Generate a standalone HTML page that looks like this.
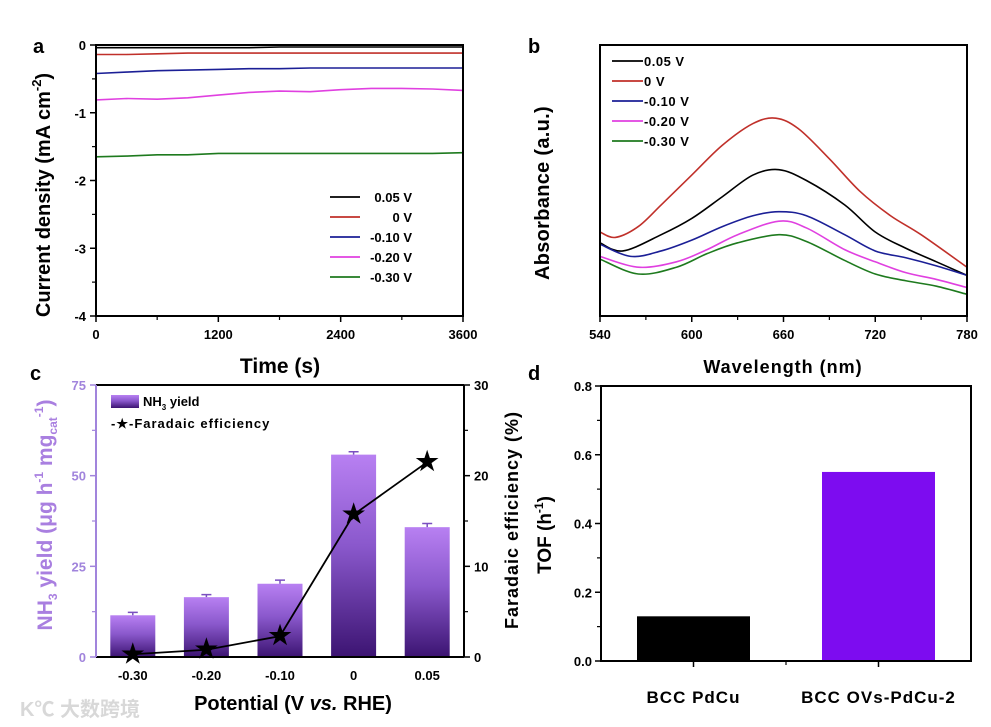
<!DOCTYPE html>
<html><head><meta charset="utf-8">
<style>
html,body{margin:0;padding:0;background:#fff;}
svg{display:block;font-family:"Liberation Sans",Arial,sans-serif;font-weight:bold;}
</style></head>
<body>
<svg id="fig" width="991" height="727" viewBox="0 0 991 727" xmlns="http://www.w3.org/2000/svg">
<defs>
<linearGradient id="barGrad" x1="0" y1="0" x2="0" y2="1">
<stop offset="0" stop-color="#b880f2"/>
<stop offset="0.45" stop-color="#8a58cc"/>
<stop offset="1" stop-color="#3c1472"/>
</linearGradient>
</defs>
<g id="root"></g>
<text x="20" y="716" font-size="20" fill="#d8d8d8" font-family="'Liberation Sans','Noto Sans CJK SC',sans-serif">K℃ 大数跨境</text>
</svg>
<script>
// ---- Panel a data ----
const aTimes = [0, 300, 600, 900, 1200, 1500, 1800, 2100, 2400, 2700, 3000, 3300, 3600];
const aSeriesNames = ["0.05 V", "0 V", "-0.10 V", "-0.20 V", "-0.30 V"];
const aBlack = [-0.04,-0.04,-0.04,-0.04,-0.04,-0.04,-0.03,-0.03,-0.03,-0.03,-0.03,-0.03,-0.03];
const aRed = [-0.14,-0.14,-0.13,-0.12,-0.12,-0.12,-0.12,-0.12,-0.12,-0.12,-0.12,-0.12,-0.12];
const aBlue = [-0.42,-0.40,-0.38,-0.37,-0.36,-0.35,-0.35,-0.34,-0.34,-0.34,-0.34,-0.34,-0.34];
const aMagenta = [-0.81,-0.79,-0.80,-0.78,-0.74,-0.70,-0.68,-0.69,-0.66,-0.64,-0.64,-0.65,-0.67];
const aGreen = [-1.65,-1.64,-1.62,-1.62,-1.60,-1.60,-1.60,-1.60,-1.60,-1.60,-1.60,-1.60,-1.59];
const aXTicks = [0, 1200, 2400, 3600];
const aYTicks = [0, -1, -2, -3, -4];
// ---- Panel b data ----
const bRedX = [540,550,565,580,600,620,640,655,670,690,710,730,750,780];
const bRed = [0.31,0.29,0.33,0.41,0.52,0.63,0.71,0.73,0.69,0.58,0.46,0.37,0.30,0.18];
const bBlackX = [540,555,580,600,620,640,657,675,700,720,740,760,780];
const bBlack = [0.27,0.24,0.30,0.36,0.44,0.52,0.54,0.50,0.41,0.31,0.25,0.20,0.15];
const bBlueX = [540,560,580,600,620,640,657,675,700,720,740,760,780];
const bBlue = [0.265,0.22,0.24,0.28,0.33,0.37,0.385,0.37,0.30,0.24,0.215,0.185,0.15];
const bMagX = [540,565,590,610,630,657,675,700,720,740,760,780];
const bMag = [0.22,0.18,0.20,0.245,0.30,0.35,0.325,0.245,0.20,0.16,0.135,0.105];
const bGreenX = [540,565,590,610,630,657,675,700,720,740,760,780];
const bGreen = [0.21,0.155,0.18,0.23,0.27,0.30,0.275,0.205,0.155,0.13,0.11,0.08];
const bXTicks = [540, 600, 660, 720, 780];
// ---- Panel c data ----
const cCategories = ["-0.30", "-0.20", "-0.10", "0", "0.05"];
const cYield = [11.5, 16.5, 20.2, 55.8, 35.8];
const cYieldErr = [0.8, 0.7, 1.0, 0.8, 1.0];
const cFE = [0.3, 0.8, 2.3, 15.7, 21.5];
const cLeftTicks = [0, 25, 50, 75];
const cRightTicks = [0, 10, 20, 30];
// ---- Panel d data ----
const dCategories = ["BCC PdCu", "BCC OVs-PdCu-2"];
const dTOF = [0.13, 0.55];
const dYTicks = [0.0, 0.2, 0.4, 0.6, 0.8];

const NS = "http://www.w3.org/2000/svg";
const root = document.getElementById("root");
function el(tag, attrs, parent, text) {
  const e = document.createElementNS(NS, tag);
  for (const k in attrs) e.setAttribute(k, attrs[k]);
  if (text !== undefined) e.textContent = text;
  (parent || root).appendChild(e);
  return e;
}
function lin(d0, d1, r0, r1) { return v => r0 + (v - d0) / (d1 - d0) * (r1 - r0); }
function path(xs, ys, fx, fy) { return xs.map((x, i) => (i ? "L" : "M") + fx(x).toFixed(1) + "," + fy(ys[i]).toFixed(1)).join(""); }
function smoothPath(xs, ys, fx, fy) {
  const p = xs.map((x, i) => [fx(x), fy(ys[i])]);
  let d = "M" + p[0][0] + "," + p[0][1];
  for (let i = 0; i < p.length - 1; i++) {
    const p0 = p[i - 1] || p[i], p1 = p[i], p2 = p[i + 1], p3 = p[i + 2] || p2;
    const c1 = [p1[0] + (p2[0] - p0[0]) / 6, p1[1] + (p2[1] - p0[1]) / 6];
    const c2 = [p2[0] - (p3[0] - p1[0]) / 6, p2[1] - (p3[1] - p1[1]) / 6];
    d += "C" + c1.join(",") + " " + c2.join(",") + " " + p2.join(",");
  }
  return d;
}
const colors = ["#000000", "#c0302a", "#1b1f96", "#e040e0", "#1e7a1e"];

// ================= Panel a =================
{
  const L = 96, R = 463, T = 45, B = 316;
  const g = el("g", {});
  
  
  const fx = lin(0, 3600, L, R), fy = lin(-4, 0, B, T);
  const t = el("text", {x: 33, y: 53, "font-size": 20}, g, "a");
   
  const series = [aBlack, aRed, aBlue, aMagenta, aGreen];
  series.forEach((s, i) => {
    const p = el("path", {d: path(aTimes, s, fx, fy), stroke: colors[i], "stroke-width": 1.6, fill: "none"}, g);
    
    
  });
  const box = el("rect", {x: L, y: T, width: R - L, height: B - T, fill: "none", stroke: "#000", "stroke-width": 2}, g);
   
  aXTicks.forEach(v => {
    el("line", {x1: fx(v), x2: fx(v), y1: B, y2: B + 6, stroke: "#000", "stroke-width": 1.5}, g);
    const tl = el("text", {x: fx(v), y: B + 23, "font-size": 13, "text-anchor": "middle"}, g, String(v));
     
  });
  [600, 1800, 3000].forEach(v => el("line", {x1: fx(v), x2: fx(v), y1: B, y2: B + 4, stroke: "#000", "stroke-width": 1.2}, g));
  aYTicks.forEach(v => {
    el("line", {x1: L - 6, x2: L, y1: fy(v), y2: fy(v), stroke: "#000", "stroke-width": 1.5}, g);
    const tl = el("text", {x: L - 10, y: fy(v) + 5, "font-size": 13, "text-anchor": "end"}, g, String(v));
     
  });
  [-0.5, -1.5, -2.5, -3.5].forEach(v => el("line", {x1: L - 4, x2: L, y1: fy(v), y2: fy(v), stroke: "#000", "stroke-width": 1.2}, g));
  const xt = el("text", {x: 280, y: 373, "font-size": 21, "text-anchor": "middle"}, g, "Time (s)");
   
  const yt = el("text", {transform: "translate(50,195) rotate(-90)", "font-size": 20, "text-anchor": "middle"}, g);
   
  el("tspan", {}, yt, "Current density (mA cm");
  el("tspan", {"font-size": 13, dy: -9}, yt, "-2");
  el("tspan", {dy: 9}, yt, ")");
  aSeriesNames.forEach((n, i) => {
    const y = 197 + i * 20;
    const lg = el("g", {}, g);
     
    el("line", {x1: 330, x2: 360, y1: y, y2: y, stroke: colors[i], "stroke-width": 1.8}, lg);
    el("text", {x: 412, y: y + 5, "font-size": 13, "text-anchor": "end"}, lg, n);
  });
}

// ================= Panel b =================
{
  const L = 600, R = 967, T = 45, B = 316;
  const g = el("g", {});
  
  
  const fx = lin(540, 780, L, R), fy = lin(0, 1, B, T);
  const t = el("text", {x: 528, y: 53, "font-size": 20}, g, "b");
   
  const names = ["0.05 V", "0 V", "-0.10 V", "-0.20 V", "-0.30 V"];
  const sx = [bBlackX, bRedX, bBlueX, bMagX, bGreenX], sy = [bBlack, bRed, bBlue, bMag, bGreen];
  sx.forEach((xs, i) => {
    const p = el("path", {d: smoothPath(xs, sy[i], fx, fy), stroke: colors[i], "stroke-width": 1.6, fill: "none"}, g);
    
    
  });
  const box = el("rect", {x: L, y: T, width: R - L, height: B - T, fill: "none", stroke: "#000", "stroke-width": 2}, g);
   
  bXTicks.forEach(v => {
    el("line", {x1: fx(v), x2: fx(v), y1: B, y2: B + 6, stroke: "#000", "stroke-width": 1.5}, g);
    const tl = el("text", {x: fx(v), y: B + 23, "font-size": 13, "text-anchor": "middle"}, g, String(v));
     
  });
  [570, 630, 690, 750].forEach(v => el("line", {x1: fx(v), x2: fx(v), y1: B, y2: B + 4, stroke: "#000", "stroke-width": 1.2}, g));
  const xt = el("text", {x: 783, y: 373, "font-size": 18, "text-anchor": "middle", "letter-spacing": 1}, g, "Wavelength (nm)");
   
  const yt = el("text", {transform: "translate(549,193) rotate(-90)", "font-size": 20, "text-anchor": "middle", "letter-spacing": 0.3}, g, "Absorbance (a.u.)");
   
  names.forEach((n, i) => {
    const y = 61 + i * 20;
    const lg = el("g", {}, g);
     
    el("line", {x1: 612, x2: 643, y1: y, y2: y, stroke: colors[i], "stroke-width": 1.8}, lg);
    el("text", {x: 644, y: y + 5, "font-size": 13, "letter-spacing": 0.5}, lg, n);
  });
}

// ================= Panel c =================
{
  const L = 96, R = 464, T = 385, B = 657;
  const g = el("g", {});
  
  
  const fy = lin(0, 75, B, T), fyr = lin(0, 30, B, T);
  const n = cCategories.length;
  const fx = i => L + (R - L) * (i + 0.5) / n;
  const purple = "#a184dc";
  const t = el("text", {x: 30, y: 380, "font-size": 20}, g, "c");
   
  cYield.forEach((v, i) => {
    const cx = fx(i), w = 45;
    const b = el("rect", {x: cx - w / 2, y: fy(v), width: w, height: B - fy(v), fill: "url(#barGrad)"}, g);
    
    
    const e = el("path", {d: `M${cx},${fy(v)}V${fy(v + cYieldErr[i])}M${cx - 5},${fy(v + cYieldErr[i])}H${cx + 5}`, stroke: "#7a4fc0", "stroke-width": 1.5, fill: "none"}, g);
     
  });
  const fl = el("path", {d: cFE.map((v, i) => (i ? "L" : "M") + fx(i) + "," + fyr(v)).join(""), stroke: "#000", "stroke-width": 1.8, fill: "none"}, g);
   
  cFE.forEach((v, i) => {
    const s = el("text", {x: fx(i), y: fyr(v) + 8, "font-size": 26, "text-anchor": "middle"}, g, "★");
    
    
  });
  el("line", {x1: L, x2: R, y1: T, y2: T, stroke: "#000", "stroke-width": 2}, g);
  el("line", {x1: L, x2: R, y1: B, y2: B, stroke: "#000", "stroke-width": 2}, g);
  el("line", {x1: R, x2: R, y1: T, y2: B, stroke: "#000", "stroke-width": 2}, g);
  el("line", {x1: L, x2: L, y1: T, y2: B, stroke: purple, "stroke-width": 2}, g);
  cLeftTicks.forEach(v => {
    el("line", {x1: L - 6, x2: L, y1: fy(v), y2: fy(v), stroke: purple, "stroke-width": 1.5}, g);
    const tl = el("text", {x: L - 10, y: fy(v) + 5, "font-size": 13, "text-anchor": "end", fill: purple}, g, String(v));
     
  });
  [12.5, 37.5, 62.5].forEach(v => el("line", {x1: L - 4, x2: L, y1: fy(v), y2: fy(v), stroke: purple, "stroke-width": 1.2}, g));
  cRightTicks.forEach(v => {
    el("line", {x1: R, x2: R + 6, y1: fyr(v), y2: fyr(v), stroke: "#000", "stroke-width": 1.5}, g);
    const tl = el("text", {x: R + 10, y: fyr(v) + 5, "font-size": 13}, g, String(v));
     
  });
  [5, 15, 25].forEach(v => el("line", {x1: R, x2: R + 4, y1: fyr(v), y2: fyr(v), stroke: "#000", "stroke-width": 1.2}, g));
  cCategories.forEach((c, i) => {
    const tl = el("text", {x: fx(i), y: B + 23, "font-size": 13, "text-anchor": "middle"}, g, c);
     
  });
  const xt = el("text", {x: 293, y: 710, "font-size": 20, "text-anchor": "middle"}, g);
   
  el("tspan", {}, xt, "Potential (V ");
  el("tspan", {"font-style": "italic"}, xt, "vs.");
  el("tspan", {}, xt, " RHE)");
  const yt = el("text", {transform: "translate(52,515) rotate(-90)", "font-size": 21, "text-anchor": "middle", fill: "#a97fe0"}, g);
   
  el("tspan", {}, yt, "NH");
  el("tspan", {"font-size": 12, dy: 5}, yt, "3");
  el("tspan", {dy: -5}, yt, " yield (μg h");
  el("tspan", {"font-size": 12, dy: -9}, yt, "-1");
  el("tspan", {dy: 9}, yt, " mg");
  el("tspan", {"font-size": 12, dy: 5}, yt, "cat");
  el("tspan", {"font-size": 12, dy: -14}, yt, "-1");
  el("tspan", {dy: 9}, yt, ")");
  const yr = el("text", {transform: "translate(518,520) rotate(-90)", "font-size": 18, "text-anchor": "middle", "letter-spacing": 1}, g, "Faradaic efficiency (%)");
   
  const lg1 = el("g", {}, g);
   
  el("rect", {x: 111, y: 395, width: 28, height: 13, fill: "url(#barGrad)"}, lg1);
  const lt = el("text", {x: 143, y: 406, "font-size": 13}, lg1);
  el("tspan", {}, lt, "NH");
  el("tspan", {"font-size": 8, dy: 4}, lt, "3");
  el("tspan", {dy: -4}, lt, " yield");
  const lg2 = el("g", {}, g);
   
  el("text", {x: 111, y: 428, "font-size": 13, "letter-spacing": 1}, lg2, "-★-Faradaic efficiency");
}

// ================= Panel d =================
{
  const L = 601, R = 971, T = 386, B = 661;
  const g = el("g", {});
  
  
  const fy = lin(0, 0.8, B, T);
  const fx = lin(0, 4, L, R);
  const t = el("text", {x: 528, y: 380, "font-size": 20}, g, "d");
   
  const barCols = ["#000000", "#7d0cf0"];
  dTOF.forEach((v, i) => {
    const cx = fx(1 + 2 * i), w = 113;
    const b = el("rect", {x: cx - w / 2, y: fy(v), width: w, height: B - fy(v), fill: barCols[i]}, g);
    
    
    const tl = el("text", {x: cx, y: 703, "font-size": 17, "text-anchor": "middle", "letter-spacing": 1}, g, dCategories[i]);
     
    el("line", {x1: cx, x2: cx, y1: B, y2: B + 6, stroke: "#000", "stroke-width": 1.5}, g);
  });
  el("line", {x1: fx(2), x2: fx(2), y1: B, y2: B + 4, stroke: "#000", "stroke-width": 1.2}, g);
  const box = el("rect", {x: L, y: T, width: R - L, height: B - T, fill: "none", stroke: "#000", "stroke-width": 2}, g);
   
  dYTicks.forEach(v => {
    el("line", {x1: L - 6, x2: L, y1: fy(v), y2: fy(v), stroke: "#000", "stroke-width": 1.5}, g);
    const tl = el("text", {x: L - 9, y: fy(v) + 5, "font-size": 13, "text-anchor": "end"}, g, v.toFixed(1));
     
  });
  [0.1, 0.3, 0.5, 0.7].forEach(v => el("line", {x1: L - 4, x2: L, y1: fy(v), y2: fy(v), stroke: "#000", "stroke-width": 1.2}, g));
  const yt = el("text", {transform: "translate(551,535) rotate(-90)", "font-size": 19, "text-anchor": "middle"}, g);
   
  el("tspan", {}, yt, "TOF (h");
  el("tspan", {"font-size": 12, dy: -8}, yt, "-1");
  el("tspan", {dy: 8}, yt, ")");
}
</script>
</body></html>
